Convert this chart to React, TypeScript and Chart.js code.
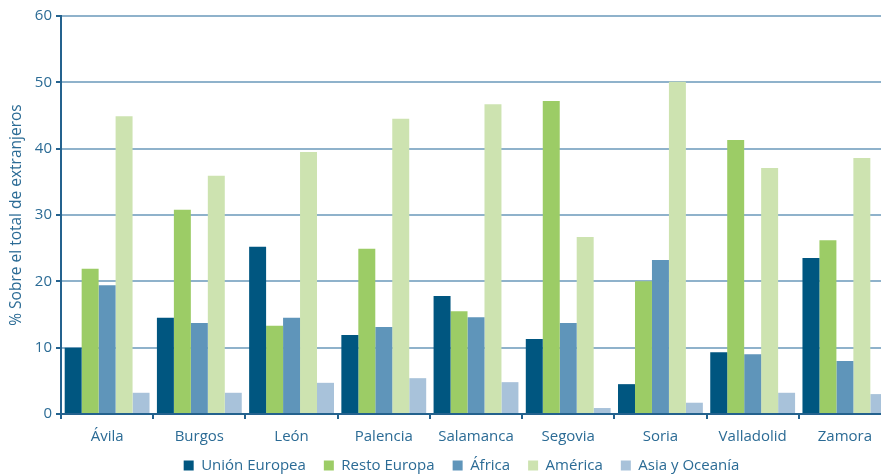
import React, { useEffect, useRef } from "react";
import { Chart, registerables } from "chart.js";

Chart.register(...registerables);

const categories = ["Ávila", "Burgos", "León", "Palencia", "Salamanca", "Segovia", "Soria", "Valladolid", "Zamora"];
const seriesNames = ["Unión Europea", "Resto Europa", "África", "América", "Asia y Oceanía"];
const unionEuropea = [10.0, 14.5, 25.2, 11.9, 17.8, 11.3, 4.5, 9.3, 23.5];
const restoEuropa = [21.9, 30.8, 13.3, 24.9, 15.5, 47.2, 20.0, 41.3, 26.2];
const africa = [19.4, 13.7, 14.5, 13.1, 14.6, 13.7, 23.2, 9.0, 8.0];
const america = [44.9, 35.9, 39.5, 44.5, 46.7, 26.7, 50.1, 37.1, 38.6];
const asiaOceania = [3.2, 3.2, 4.7, 5.4, 4.8, 0.9, 1.7, 3.2, 3.0];
const yTicks = [0, 10, 20, 30, 40, 50, 60];
const yTitle = "% Sobre el total de extranjeros";

const colors = ["#005680", "#9ccc66", "#5f95ba", "#cde3b0", "#a8c2da"];
const textColor = "#2b6b95";
const axisColor = "#24628e";
const gridColor = "#8fb2cb";
const FONT = "'Open Sans', sans-serif";

const LEGEND_HEIGHT = 24;

const legendAdjust = {
  id: "legendAdjust",
  beforeLayout(chart: any) {
    const lg = chart.legend;
    if (lg && !lg.__patched) {
      const orig = lg.fit;
      lg.fit = function (this: any) {
        orig.call(this);
        this.height = LEGEND_HEIGHT;
      };
      lg.__patched = true;
    }
  },
  afterLayout(chart: any) {
    const lg = chart.legend;
    if (lg) {
      lg.left += 16;
      lg.right += 16;
      lg.top -= 11;
    }
  },
};

export default function App() {
  const ref = useRef<HTMLCanvasElement | null>(null);
  useEffect(() => {
    if (!ref.current) return;
    const all = [unionEuropea, restoEuropa, africa, america, asiaOceania];
    const chart = new Chart(ref.current, {
      type: "bar",
      data: {
        labels: categories,
        datasets: all.map((d, i) => ({
          label: seriesNames[i],
          data: d,
          backgroundColor: colors[i],
          borderWidth: 0,
          categoryPercentage: 0.92,
          barPercentage: 1.0,
        })),
      },
      plugins: [legendAdjust],
      options: {
        responsive: false,
        animation: false,
        maintainAspectRatio: false,
        layout: { padding: { top: 16, right: 0, left: 0, bottom: 0 } },
        plugins: {
          legend: {
            position: "bottom",
            labels: {
              boxWidth: 10,
              boxHeight: 10,
              padding: 18,
              color: textColor,
              font: { family: FONT, size: 15 },
            },
          },
          tooltip: { enabled: false },
        },
        scales: {
          x: {
            grid: {
              display: true,
              drawOnChartArea: false,
              drawTicks: true,
              tickLength: 5,
              tickColor: axisColor,
              lineWidth: 2,
            },
            border: { display: true, color: axisColor, width: 2 },
            ticks: {
              color: textColor,
              font: { family: FONT, size: 15 },
              padding: 9,
              maxRotation: 0,
            },
            afterFit: (s: any) => {
              s.height = 37;
            },
          },
          y: {
            min: 0,
            max: 60,
            afterBuildTicks: (s: any) => {
              s.ticks = yTicks.map((v) => ({ value: v }));
            },
            grid: {
              color: gridColor,
              lineWidth: 2,
              drawTicks: true,
              tickLength: 5,
              tickColor: axisColor,
            },
            border: { display: true, color: axisColor, width: 2 },
            ticks: {
              color: textColor,
              font: { family: FONT, size: 15 },
              padding: 4,
            },
            title: {
              display: true,
              text: yTitle,
              color: textColor,
              font: { family: FONT, size: 15.5 },
              padding: { top: 7, bottom: 2 },
            },
            afterFit: (s: any) => {
              s.width = 61;
            },
          },
        },
      },
    });
    return () => chart.destroy();
  }, []);
  return (
    <div style={{ position: "fixed", left: 0, top: 0, width: 881, height: 475, overflow: "hidden", background: "#fff" }}>
      <canvas ref={ref} width={891} height={475} style={{ display: "block", width: 891, height: 475 }} />
    </div>
  );
}
